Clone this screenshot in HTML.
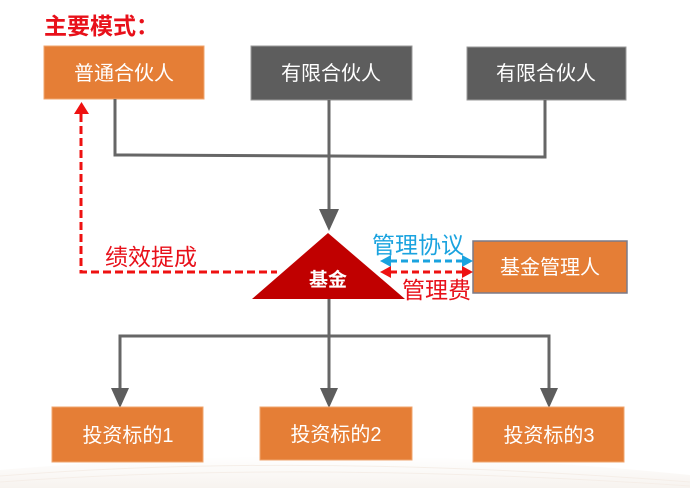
<!DOCTYPE html>
<html><head><meta charset="utf-8"><style>
html,body{margin:0;padding:0;background:#fff;}
body{width:690px;height:488px;overflow:hidden;position:relative;}
svg{display:block;}
text{font-family:"Liberation Sans","Noto Sans CJK SC","WenQuanYi Zen Hei",sans-serif;}
</style></head><body>
<svg width="690" height="488" viewBox="0 0 690 488" xmlns="http://www.w3.org/2000/svg">
<defs>
<linearGradient id="bg" x1="0" y1="0" x2="0" y2="1">
<stop offset="0" stop-color="#ffffff"/>
<stop offset="1" stop-color="#f7f3ef"/>
</linearGradient>
</defs>
<rect x="0" y="0" width="690" height="488" fill="#fff"/>
<path d="M0 470 Q345 440 690 475 L690 488 L0 488 Z" fill="url(#bg)"/>
<path d="M0 476 Q300 452 690 482" stroke="#f5eee8" stroke-width="1" fill="none"/>
<path d="M0 482 Q300 460 690 486" stroke="#f5eee8" stroke-width="1" fill="none"/>

<!-- title -->
<text x="44" y="34" font-size="23" font-weight="bold" fill="#e8101a">主要模式：</text>

<!-- top boxes -->
<rect x="44" y="46" width="160" height="53" fill="#e57e36" stroke="#f0a56e" stroke-width="1"/>
<text x="124" y="80" font-size="20" fill="#fff" text-anchor="middle">普通合伙人</text>
<rect x="251" y="46" width="161" height="54" fill="#5d5d5d" stroke="#9a9a9a" stroke-width="1"/>
<text x="331" y="80" font-size="20" fill="#fff" text-anchor="middle">有限合伙人</text>
<rect x="467" y="47" width="159" height="53" fill="#5d5d5d" stroke="#9a9a9a" stroke-width="1"/>
<text x="546" y="80" font-size="20" fill="#fff" text-anchor="middle">有限合伙人</text>

<!-- top connectors -->
<g stroke="#666" stroke-width="3" fill="none">
<polyline points="115,99 115,155 545,157 545,100"/>
<line x1="329" y1="100" x2="329" y2="212"/>
<line x1="329" y1="298" x2="329" y2="336"/>
<polyline points="120,390 120,336 549,336 549,390"/>
<line x1="329" y1="336" x2="329" y2="390"/>
</g>
<g fill="#5d5d5d">
<polygon points="319,209 339,209 329,231"/>
<polygon points="111,388 129,388 120,408"/>
<polygon points="320,388 338,388 329,408"/>
<polygon points="540,388 558,388 549,408"/>
</g>

<!-- triangle 基金 -->
<polygon points="328,233 405,299 252,299" fill="#c00000"/>
<text x="328" y="286" font-size="19" font-weight="bold" fill="#fff" text-anchor="middle">基金</text>

<!-- red dashed performance fee -->
<g stroke="#ee1111" stroke-width="3" fill="none" stroke-dasharray="8,4">
<polyline points="81,114 81,272 277,272"/>
</g>
<polygon points="74,114 89,114 81.5,102" fill="#ee1111"/>
<text x="105" y="265" font-size="23" fill="#e8101a">绩效提成</text>

<!-- manager -->
<rect x="473" y="241" width="154" height="52" fill="#e57e36" stroke="#7a7a88" stroke-width="1.5"/>
<text x="550" y="274" font-size="20" fill="#fff" text-anchor="middle">基金管理人</text>

<text x="372" y="253" font-size="23" fill="#1aa3df">管理协议</text>
<g stroke="#1aa3df" stroke-width="3" fill="none" stroke-dasharray="7,4">
<line x1="390" y1="261" x2="463" y2="261"/>
</g>
<polygon points="380,261 391,255 391,267" fill="#1aa3df"/>
<polygon points="473,261 462,255 462,267" fill="#1aa3df"/>

<g stroke="#ee1111" stroke-width="3" fill="none" stroke-dasharray="7,4">
<line x1="390" y1="272" x2="463" y2="272"/>
</g>
<polygon points="380,272 391,266 391,278" fill="#ee1111"/>
<polygon points="473,272 462,266 462,278" fill="#ee1111"/>
<text x="402" y="298" font-size="23" fill="#e8101a">管理费</text>

<!-- bottom boxes -->
<rect x="52" y="407" width="151" height="55" fill="#e57e36" stroke="#f0a56e" stroke-width="1"/>
<text x="128" y="442" font-size="20" fill="#fff" text-anchor="middle">投资标的1</text>
<rect x="260" y="407" width="152" height="53" fill="#e57e36" stroke="#f0a56e" stroke-width="1"/>
<text x="336" y="441" font-size="20" fill="#fff" text-anchor="middle">投资标的2</text>
<rect x="473" y="407" width="151" height="55" fill="#e57e36" stroke="#f0a56e" stroke-width="1"/>
<text x="549" y="442" font-size="20" fill="#fff" text-anchor="middle">投资标的3</text>
</svg>
</body></html>
